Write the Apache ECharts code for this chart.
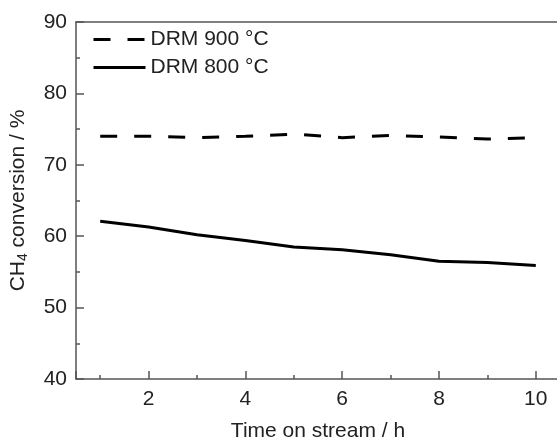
<!DOCTYPE html>
<html>
<head>
<meta charset="utf-8">
<script src="https://cdn.jsdelivr.net/npm/echarts@6/dist/echarts.min.js"></script>
<style>html,body{margin:0;padding:0;background:#fff;}#chart{width:557px;height:441px;}</style>
</head>
<body>
<div id="chart"></div>
<script>
const timeHours = [1, 2, 3, 4, 5, 6, 7, 8, 9, 10];
const drm900 = [74.0, 74.0, 73.8, 74.0, 74.3, 73.8, 74.1, 73.9, 73.6, 73.8];
const drm800 = [62.1, 61.3, 60.2, 59.4, 58.5, 58.1, 57.4, 56.5, 56.3, 55.9];
const seriesNames = ['DRM 900 °C', 'DRM 800 °C'];

const axisColor = '#555';
const textColor = '#222';
const fontFamily = 'Liberation Sans, Arial, sans-serif';
const fs = 21;

const chart = echarts.init(document.getElementById('chart'), null, {renderer: 'canvas'});
chart.setOption({
  animation: false,
  backgroundColor: '#fff',
  grid: {left: 76, right: -3, top: 22, bottom: 62, containLabel: false, outerBoundsMode: 'none'},
  legend: {
    orient: 'vertical', left: 92, top: 29, padding: 0,
    itemWidth: 52, itemHeight: 14, itemGap: 7,
    itemStyle: {opacity: 0},
    lineStyle: {width: 3, color: '#000'},
    textStyle: {fontSize: fs, color: textColor, fontFamily: fontFamily},
    data: seriesNames
  },
  xAxis: [{
    type: 'value', min: 0.5, max: 10.5, splitNumber: 5,
    name: 'Time on stream / h', nameLocation: 'middle', nameGap: 42,
    nameTextStyle: {fontSize: fs, color: textColor, fontFamily: fontFamily},
    axisLine: {show: true, lineStyle: {color: axisColor, width: 1.5}},
    axisTick: {show: true, inside: true, length: 8, lineStyle: {color: axisColor, width: 1.5}},
    minorTick: {show: true, splitNumber: 2, length: 4, lineStyle: {color: axisColor, width: 1.5}},
    axisLabel: {fontSize: fs, color: textColor, fontFamily: fontFamily, margin: 10,
      showMinLabel: false, showMaxLabel: false,
      formatter: v => (Number.isInteger(v) ? String(v) : '')},
    splitLine: {show: false}
  }, {
    type: 'value', position: 'top', min: 0.5, max: 10.5,
    axisLine: {show: true, lineStyle: {color: axisColor, width: 1.5}},
    axisTick: {show: false}, axisLabel: {show: false}, splitLine: {show: false}
  }],
  yAxis: {
    type: 'value', min: 40, max: 90, interval: 10,
    name: '{m|CH}{s|4}{m| conversion / %}', nameLocation: 'middle', nameGap: 46,
    nameTextStyle: {
      fontSize: fs, color: textColor, fontFamily: fontFamily,
      rich: {
        m: {fontSize: fs, color: textColor, fontFamily: fontFamily},
        s: {fontSize: 14, color: textColor, fontFamily: fontFamily, verticalAlign: 'bottom', padding: [9, 0, 0, 0]}
      }
    },
    axisLine: {show: true, lineStyle: {color: axisColor, width: 1.5}},
    axisTick: {show: true, inside: true, length: 8, lineStyle: {color: axisColor, width: 1.5}},
    minorTick: {show: true, splitNumber: 2, length: 4, lineStyle: {color: axisColor, width: 1.5}},
    axisLabel: {fontSize: fs, color: textColor, fontFamily: fontFamily, margin: 9},
    splitLine: {show: false}
  },
  series: [{
    name: seriesNames[0], type: 'line', symbol: 'none',
    data: timeHours.map((t, i) => [t, drm900[i]]),
    lineStyle: {color: '#000', width: 3, type: [17, 17]},
    itemStyle: {color: '#000'}
  }, {
    name: seriesNames[1], type: 'line', symbol: 'none',
    data: timeHours.map((t, i) => [t, drm800[i]]),
    lineStyle: {color: '#000', width: 3, type: 'solid'},
    itemStyle: {color: '#000'}
  }]
});
</script>
</body>
</html>
